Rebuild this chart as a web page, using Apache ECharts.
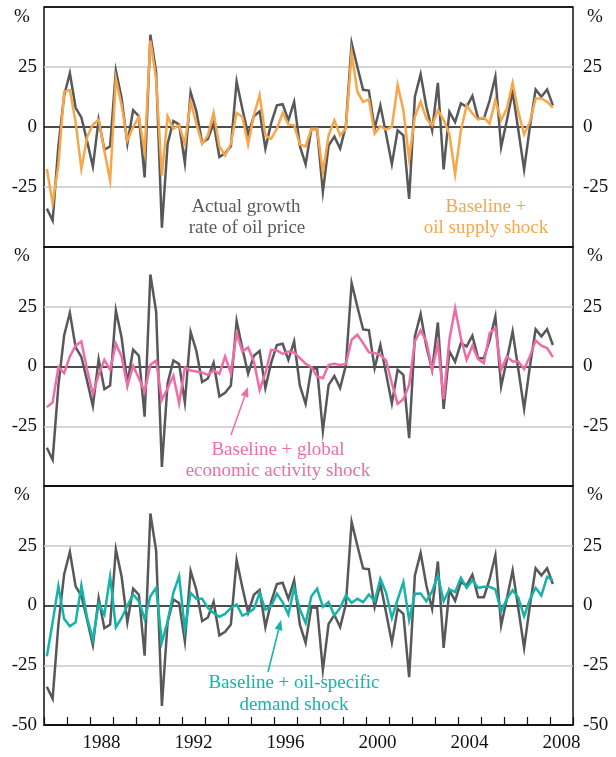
<!DOCTYPE html>
<html lang="en">
<head>
<meta charset="UTF-8">
<title>Oil price growth decomposition</title>
<script src="https://cdn.jsdelivr.net/npm/echarts@6/dist/echarts.min.js"></script>
<style>
  html, body { margin: 0; padding: 0; background: #fff; }
  #chart { width: 616px; height: 757px; }
</style>
</head>
<body>
<div id="chart"></div>
<script>
// quarterly, 1986 Q1 to 2008 Q1
const firstYear = 1986;
const quarterCount = 89;
const quarters = [];
for (let i = 0; i < quarterCount; i++) {
  quarters.push((firstYear + Math.floor(i / 4)) + 'Q' + (i % 4 + 1));
}

// actual growth rate of oil price, %
const actual = [-34, -39, -8, 13, 22.5, 8, 4, -6, -16.5, 3,
  -9.5, -8, 23.5, 12, -7, 7, 4.5, -21, 38.5, 23,
  -42, -7, 2.5, 1, -15, 14.5, 6.5, -6.5, -5, 1.5,
  -12.5, -11, -8, 19, 7.5, -3, 4.5, 6.5, -9, 1.5,
  9, 9.5, 2.8, 10.5, -8, -15.6, -0.7, -1.1, -27, -7.7,
  -4, -9, 0.5, 35, 25, 15.5, 15.2, -0.7, 9, -3,
  -15.5, -1.4, -3.5, -30, 12.6, 22, 8.4, -1.4, 18.4, -17.7,
  6.3, 2, 9.8, 8.4, 12.9, 3.5, 3.5, 11, 21, -8.4,
  2.8, 14.7, -1.4, -17.7, 0, 15.6, 12.6, 15.6, 9];

// baseline + oil supply shock
const supply = [-17.5, -31.8, -16, 14.7, 15.4, 2, -17.5, -4.2, 1, 3,
  -10, -22.3, 20, 9, -5.6, 0, 4.2, -10.5, 36, 20,
  -20.3, 4.5, -0.7, 0.7, -7, 10.5, 1.4, -7, -3.5, 5.9,
  -8.1, -11.9, -7, 5.9, 4.2, -7.3, 4.9, 13.3, -3.5, -4.9,
  -0.7, 5.9, 1.1, 0.7, -7.3, -8.1, -0.7, -0.7, -18.9, -3.5,
  2.8, -3.5, -0.7, 30.7, 14.7, 10.5, 11.5, -2.8, 0.3, -1.1,
  0, 17.5, 7, -13.3, 4.2, 10.5, 3.5, 0.7, 7, 3,
  -3, -19.6, -1.4, 9, 5.6, 3.1, 3.9, 1.4, 11.2, 2.8,
  7.7, 18.4, 6.3, -3.1, 2.1, 11.9, 11.9, 10.5, 8.1];

// baseline + global economic activity shock
const global = [-17, -15, -0.3, -2.8, 4.2, 8.7, 10.5, -1.4, -11.5, -3.5,
  2.8, -1.4, 9.5, 4.2, -8.1, 0.3, -4.9, -10.5, 0.7, 2.4,
  -14, -9.1, -3.9, -15.4, -0.4, -1.7, -2.1, -2.5, -3.5, -1.7,
  -3.1, 4.2, -2.8, 14, 6.3, 8, 2.1, -9.8, -2.8, 7,
  6.7, 5.3, 6.3, 5.9, 3.5, 1.1, -0.3, -4.2, -4.9, 0.7,
  1.1, 0.6, 1.1, 11.2, 13.3, 9.8, 5.9, 5.6, 4.9, 2.5,
  -7, -15.6, -13.7, -7.7, 10.5, 15.1, 10.5, -1.4, 9.5, -13.7,
  11.2, 24.4, 11.9, 2.8, 8.7, 3.1, 1.4, 14, 16.1, -1.4,
  4.2, 2.1, 2.1, -1.1, 4.2, 10.9, 8.7, 7.7, 3.9];

// baseline + oil-specific demand shock
const demand = [-21.2, -7, 8.1, -5.6, -8.7, -7, 8.4, -5.2, -14.2, 0.8,
  -3.8, 12, -9.1, -5.2, 0, 4.6, 1.8, -5.6, 3.9, 7.4,
  -15.4, -6.6, 5.3, 12.3, -10, 5.3, 2.8, 2.8, -1, -3.1,
  -4.7, -3.5, -1, 0.4, -4.2, -3.1, -1.4, 5.3, -1.7, -0.3,
  4.9, 1.4, -3.8, 7.4, -1.7, -7.3, 3.9, 7, -0.6, 1.4,
  -4.2, -1, 4.2, 1.1, 2.8, 1.4, 4.6, 1.8, 11.2, 5.3,
  -5.2, 2.5, 9.8, -6.1, 4.9, 5, 1.8, 6, 12.6, 1.8,
  6.7, 5.6, 11.6, 7.4, 10.6, 7.4, 7.8, 7.8, 6.7, -2.4,
  2.8, 6.4, 3.2, -4.5, 2.5, 7.4, 4.2, 12, 10.6];

const labelYears = [1988, 1992, 1996, 2000, 2004, 2008];

const GREY = '#58585a', ORANGE = '#f7a64a', PINK = '#f06ca8', TEAL = '#14b4aa';
const FONT = '"Liberation Serif", "DejaVu Serif", serif';

// place each quarter in the middle of its quarter on a year scale
function toXY(values) {
  return values.map((v, i) => {
    const q = quarters[i];
    const yr = +q.slice(0, 4), qn = +q.slice(5);
    return [yr + (qn - 0.5) / 4, v];
  });
}

const grids = [
  { left: 44, right: 43, top: 7, height: 240 },
  { left: 44, right: 43, top: 247, height: 239 },
  { left: 44, right: 43, top: 486, height: 239 }
].map(g => Object.assign(g, { show: true, borderColor: '#111', borderWidth: 1.5 }));

const xAxes = [
  { gridIndex: 0, type: 'value', min: 1986, max: 2009, show: false },
  { gridIndex: 1, type: 'value', min: 1986, max: 2009, show: false },
  { gridIndex: 2, type: 'value', min: 1986, max: 2009, interval: 1, position: 'bottom',
    axisLine: { onZero: false, lineStyle: { color: '#111', width: 1.5 } },
    axisTick: { inside: true, length: 8, lineStyle: { color: '#111', width: 1.2 } },
    axisLabel: { show: false }, splitLine: { show: false } },
  { gridIndex: 2, type: 'value', min: 1986, max: 2009, interval: 0.5, position: 'bottom',
    axisLine: { show: false, onZero: false }, axisTick: { show: false }, splitLine: { show: false },
    axisLabel: {
      margin: 9, fontFamily: FONT, fontSize: 19, color: '#111',
      showMinLabel: true, showMaxLabel: true,
      formatter: v => labelYears.includes(v - 0.5) ? String(v - 0.5) : ''
    } }
];

const yAxes = [];
[0, 1, 2].forEach(k => {
  const showBottom = k === 2;
  const fmt = v => (v === 50 || (v === -50 && !showBottom)) ? '' : String(v);
  yAxes.push({
    gridIndex: k, type: 'value', min: -50, max: 50, interval: 25, position: 'left',
    axisLine: { show: false }, axisTick: { show: false },
    axisLabel: { margin: 7, fontFamily: FONT, fontSize: 19, color: '#111', formatter: fmt },
    splitLine: { show: true, lineStyle: { width: 1.5, color: ['#111', '#c8c8c8', '#111', '#c8c8c8', '#111'] } }
  });
  yAxes.push({
    gridIndex: k, type: 'value', min: -50, max: 50, interval: 25, position: 'right',
    axisLine: { show: false }, axisTick: { show: false },
    axisLabel: { margin: 10, fontFamily: FONT, fontSize: 19, color: '#111', formatter: fmt },
    splitLine: { show: false }
  });
});

function line(name, values, color, xi, yi) {
  return {
    name, type: 'line', xAxisIndex: xi, yAxisIndex: yi, data: toXY(values),
    showSymbol: false, symbol: 'none', silent: true,
    lineStyle: { color, width: 2.5, join: 'miter' }
  };
}

const series = [
  line('Actual', actual, GREY, 0, 0),
  line('Oil supply', supply, ORANGE, 0, 0),
  line('Actual', actual, GREY, 1, 2),
  line('Global activity', global, PINK, 1, 2),
  line('Actual', actual, GREY, 2, 4),
  line('Oil-specific demand', demand, TEAL, 2, 4)
];

function text(str, x, y, color, size) {
  return {
    type: 'text', x, y, silent: true, z: 10,
    style: { text: str, fill: color, font: (size || 19) + 'px ' + FONT,
      textAlign: 'center', align: 'center', textVerticalAlign: 'middle', verticalAlign: 'middle' }
  };
}

function arrow(x1, y1, x2, y2, color) {
  const dx = x2 - x1, dy = y2 - y1, len = Math.hypot(dx, dy);
  const ux = dx / len, uy = dy / len, head = 10, half = 4;
  const bx = x2 - ux * head, by = y2 - uy * head;
  return [
    { type: 'line', silent: true, z: 10,
      shape: { x1, y1, x2: bx, y2: by }, style: { stroke: color, lineWidth: 1.5 } },
    { type: 'polygon', silent: true, z: 10,
      shape: { points: [[x2, y2], [bx - uy * half, by + ux * half], [bx + uy * half, by - ux * half]] },
      style: { fill: color } }
  ];
}

const graphics = [
  text('%', 22, 17, '#111'), text('%', 595, 17, '#111'),
  text('%', 22, 256, '#111'), text('%', 595, 256, '#111'),
  text('%', 22, 495, '#111'), text('%', 595, 495, '#111'),
  text('Actual growth', 246, 207, '#5a5a5c'),
  text('rate of oil price', 247, 228, '#5a5a5c'),
  text('Baseline +', 486, 207, ORANGE),
  text('oil supply shock', 486, 228, ORANGE),
  text('Baseline + global', 278, 450, PINK),
  text('economic activity shock', 278, 471, PINK),
  text('Baseline + oil-specific', 294, 683, TEAL),
  text('demand shock', 294, 705, TEAL)
].concat(arrow(231, 435, 248, 387, PINK), arrow(268, 672, 281, 620, TEAL));

const chart = echarts.init(document.getElementById('chart'));
chart.setOption({
  animation: false,
  backgroundColor: '#fff',
  grid: grids,
  xAxis: xAxes,
  yAxis: yAxes,
  series: series,
  graphic: graphics
});
</script>
</body>
</html>
